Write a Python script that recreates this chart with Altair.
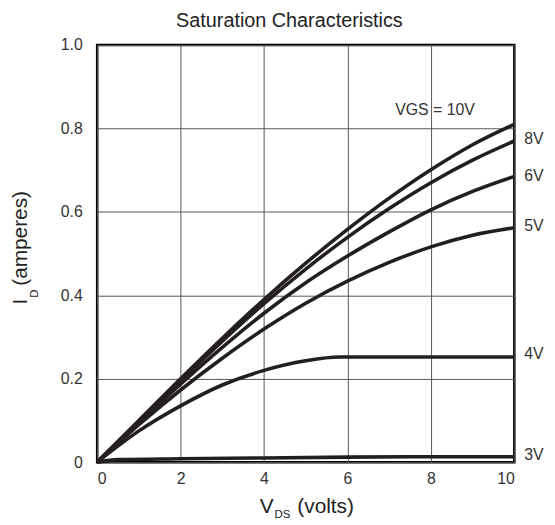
import altair as alt
import pandas as pd

vds = [0, 1, 2, 3, 4, 5, 6, 7, 8, 9, 10]
id_10v = [0, 0.100, 0.200, 0.297, 0.390, 0.477, 0.558, 0.633, 0.701, 0.761, 0.810]
id_8v = [0, 0.098, 0.195, 0.290, 0.380, 0.463, 0.539, 0.608, 0.670, 0.724, 0.770]
id_6v = [0, 0.095, 0.187, 0.275, 0.357, 0.430, 0.494, 0.552, 0.605, 0.649, 0.685]
id_5v = [0, 0.090, 0.173, 0.249, 0.319, 0.381, 0.434, 0.479, 0.516, 0.544, 0.562]
vds_4v = [0, 1, 2, 3, 4, 5, 5.8, 6, 8, 10]
id_4v = [0, 0.075, 0.135, 0.185, 0.220, 0.243, 0.252, 0.252, 0.252, 0.252]
vds_3v = [0, 0.5, 2, 4, 6, 8, 10]
id_3v = [0, 0.006, 0.008, 0.010, 0.012, 0.013, 0.013]

curve_labels = ["8V", "6V", "5V", "4V", "3V"]
curve_label_y = [0.774, 0.686, 0.565, 0.259, 0.017]

rows = []
for name, xs, ys in [("10V", vds, id_10v), ("8V", vds, id_8v), ("6V", vds, id_6v),
                     ("5V", vds, id_5v), ("4V", vds_4v, id_4v), ("3V", vds_3v, id_3v)]:
    for i, (x, y) in enumerate(zip(xs, ys)):
        rows.append({"vgs": name, "vds": x, "id": y, "order": i})
df = pd.DataFrame(rows)

FONT = "Liberation Sans"
W, H = 421, 421

xscale = alt.Scale(domain=[0, 10], nice=False)
yscale = alt.Scale(domain=[0, 1.0], nice=False)

lines = alt.Chart(df).mark_line(color="#231f20", strokeWidth=3.6, interpolate="monotone").encode(
    x=alt.X("vds:Q", scale=xscale,
            axis=alt.Axis(values=[0, 2, 4, 6, 8, 10], title=None, grid=True, ticks=False,
                          domain=False, labelFont=FONT, labelFontSize=16, labelColor="#333",
                          labelPadding=9, gridColor="#555", gridWidth=1)),
    y=alt.Y("id:Q", scale=yscale,
            axis=alt.Axis(values=[0, 0.2, 0.4, 0.6, 0.8, 1.0], title=None, grid=True, ticks=False,
                          domain=False, labelFont=FONT, labelFontSize=16, labelColor="#333",
                          labelPadding=15, gridColor="#555", gridWidth=1,
                          labelExpr="datum.value == 0 ? '0' : format(datum.value, '.1f')")),
    detail="vgs:N",
    order="order:Q",
)

lab_df = pd.DataFrame({"t": curve_labels, "x": [10] * len(curve_labels), "y": curve_label_y})
right_labels = alt.Chart(lab_df).mark_text(
    align="left", baseline="middle", dx=10, font=FONT, fontSize=16, color="#333"
).encode(x=alt.X("x:Q", scale=xscale), y=alt.Y("y:Q", scale=yscale), text="t:N")

top_df = pd.DataFrame({"t": ["VGS = 10V"], "x": [8.1], "y": [0.845]})
top_label = alt.Chart(top_df).mark_text(
    align="center", baseline="middle", font=FONT, fontSize=16, color="#333"
).encode(x=alt.X("x:Q", scale=xscale), y=alt.Y("y:Q", scale=yscale), text="t:N")

def txt(s, x, y, size, angle=0, align="left", baseline="alphabetic"):
    d = pd.DataFrame({"t": [s]})
    kw = dict(align=align, baseline=baseline, font=FONT, fontSize=size, color="#222")
    if angle:
        kw["angle"] = angle
    return alt.Chart(d).mark_text(**kw).encode(
        x=alt.value(x), y=alt.value(y), text="t:N")

title = txt("Saturation Characteristics", 194, -18, 20, align="center")
xt1 = txt("V", 164, 472, 21)
xt2 = txt("DS", 179, 477, 11.5)
xt3 = txt("(volts)", 202, 472, 21)
yt1 = txt("I", -71, 262, 21, angle=270)
yt2 = txt("D", -60, 255, 11.5, angle=270)
yt3 = txt("(amperes)", -71, 243, 21, angle=270)

chart = alt.layer(lines, right_labels, top_label, title, xt1, xt2, xt3, yt1, yt2, yt3).properties(
    width=W, height=H,
    autosize=alt.AutoSizeParams(type="none"),
    padding={"left": 90, "top": 35, "right": 33, "bottom": 55},
).configure_view(stroke="#000", strokeWidth=2.5).configure_text(limit=0)

chart.save("out.html", embed_options={"renderer": "svg", "actions": False})
